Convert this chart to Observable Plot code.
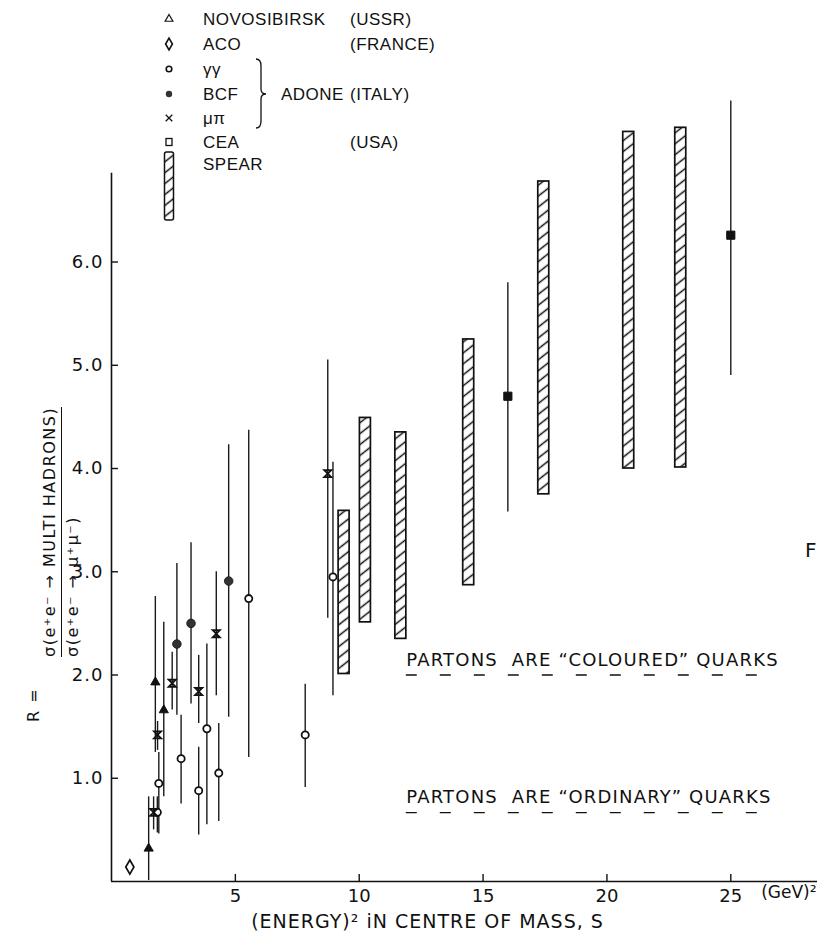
<!DOCTYPE html>
<html>
<head>
<meta charset="utf-8">
<script src="https://cdn.jsdelivr.net/npm/d3@7"></script>
<script src="https://cdn.jsdelivr.net/npm/@observablehq/plot@0.6"></script>
<style>
html,body{margin:0;padding:0;background:#fff;}
#wrap{position:relative;width:817px;height:942px;overflow:hidden;background:#fff;color:#111;font-family:"DejaVu Sans",sans-serif;}
#wrap > svg{position:absolute;left:0;top:0;}
.ylab{position:absolute;transform-origin:0 0;transform:rotate(-90deg);white-space:nowrap;font-size:16px;line-height:17px;letter-spacing:1.5px;color:#111;}
.frac{display:inline-block;}
.frac .bar{border-top:1.5px solid #111;margin:3px 0 2px 0;}
#fig{position:absolute;left:805px;top:538px;font-size:20px;color:#111;}
</style>
</head>
<body>
<div id="wrap"></div>
<script>
// ---------------- data ----------------
const xTicks = [5, 10, 15, 20, 25];
const yTicks = [1, 2, 3, 4, 5, 6];
const yAxisTop = 6.86;

// NOVOSIBIRSK (USSR) – triangles
const novosibirsk = [
  {s: 1.50, R: 0.32, lo: 0.01, hi: 0.82},
  {s: 1.77, R: 1.93, lo: 1.25, hi: 2.76},
  {s: 2.11, R: 1.66, lo: 0.82, hi: 2.51}
];
// ACO (FRANCE) – diamond
const aco = [
  {s: 0.74, R: 0.14, lo: 0.08, hi: 0.20}
];
// ADONE γγ – open circles
const adoneGG = [
  {s: 1.85, R: 0.67, lo: 0.47, hi: 0.82},
  {s: 1.91, R: 0.95, lo: 0.46, hi: 1.25},
  {s: 2.81, R: 1.19, lo: 0.75, hi: 1.61},
  {s: 3.52, R: 0.88, lo: 0.45, hi: 1.30},
  {s: 3.85, R: 1.48, lo: 0.55, hi: 2.30},
  {s: 4.33, R: 1.05, lo: 0.58, hi: 1.53},
  {s: 5.54, R: 2.74, lo: 1.20, hi: 4.37},
  {s: 7.82, R: 1.42, lo: 0.91, hi: 1.91},
  {s: 8.94, R: 2.95, lo: 1.80, hi: 4.06}
];
// ADONE BCF – filled circles
const adoneBCF = [
  {s: 2.64, R: 2.30, lo: 1.61, hi: 3.08},
  {s: 3.21, R: 2.50, lo: 1.72, hi: 3.28},
  {s: 4.73, R: 2.91, lo: 1.59, hi: 4.23}
];
// ADONE μπ – crosses
const adoneMuPi = [
  {s: 1.70, R: 0.67, lo: 0.50, hi: 0.82},
  {s: 1.86, R: 1.42, lo: 1.27, hi: 1.55},
  {s: 2.45, R: 1.92, lo: 1.66, hi: 2.22},
  {s: 3.52, R: 1.84, lo: 1.53, hi: 2.19},
  {s: 4.23, R: 2.40, lo: 1.80, hi: 3.00},
  {s: 8.73, R: 3.95, lo: 2.55, hi: 5.05}
];
// CEA (USA) – filled squares
const cea = [
  {s: 16.0, R: 4.70, lo: 3.58, hi: 5.80},
  {s: 25.0, R: 6.26, lo: 4.90, hi: 7.56}
];
// SPEAR – hatched bands
const spear = [
  {s: 9.39, lo: 2.01, hi: 3.59},
  {s: 10.25, lo: 2.51, hi: 4.49},
  {s: 11.68, lo: 2.35, hi: 4.35},
  {s: 14.42, lo: 2.87, hi: 5.25},
  {s: 17.45, lo: 3.75, hi: 6.78},
  {s: 20.88, lo: 4.00, hi: 7.26},
  {s: 22.98, lo: 4.01, hi: 7.30}
];
// predictions
const annotations = [
  {text: "PARTONS  ARE \u201CCOLOURED\u201D QUARKS", R: 2, s1: 11.9, s2: 26.9},
  {text: "PARTONS  ARE \u201CORDINARY\u201D QUARKS", R: 2 / 3, s1: 11.9, s2: 26.9}
];
// legend
const legendSymbols = ["triangle", "diamond", "circle", "dot", "times", "square", "spear"];
const legendNames = ["NOVOSIBIRSK", "ACO", "\u03B3\u03B3", "BCF", "\u03BC\u03C0", "CEA", "SPEAR"];
const legendCountries = ["(USSR)", "(FRANCE)", "", "(ITALY)", "", "(USA)", ""];
const legendGroup = "ADONE";
const xLabel = "(ENERGY)\u00B2 iN CENTRE OF MASS, S";
const xUnit = "(GeV)\u00B2";

// ---------------- chart ----------------
const hourglass = {
  draw(context, size) {
    const a = Math.sqrt(size) / 2;
    context.moveTo(-a, -a); context.lineTo(a, -a);
    context.lineTo(-a, a); context.lineTo(a, a); context.closePath();
  }
};
const ink = "#111";
const err = (data) => Plot.ruleX(data, {x: "s", y1: "lo", y2: "hi", stroke: "#1a1a1a", strokeWidth: 1.4});

const chart = Plot.plot({
  width: 817,
  height: 942,
  marginLeft: 111,
  marginRight: 0,
  marginTop: 86,
  marginBottom: 61,
  x: {domain: [0, 28.5]},
  y: {domain: [0, 7.7]},
  style: {fontFamily: "DejaVu Sans, sans-serif", fontSize: "17px", color: ink, background: "white", overflow: "visible"},
  marks: [
    Plot.ruleY([0], {stroke: ink, strokeWidth: 1.6}),
    Plot.ruleX([0], {y1: 0, y2: yAxisTop, stroke: ink, strokeWidth: 1.6}),
    Plot.axisX(xTicks, {tickSize: -7, tickPadding: 15, label: null, fontSize: 18, strokeWidth: 1.4}),
    Plot.axisY(yTicks, {tickSize: -7, tickPadding: 15, label: null, fontSize: 18, strokeWidth: 1.4, tickFormat: d3.format(".1f")}),
    Plot.text([xUnit], {frameAnchor: "bottom-right", textAnchor: "end", dx: -1, dy: 16, fontSize: 17}),
    Plot.text([xLabel], {frameAnchor: "bottom", dx: -37, dy: 46, fontSize: 19}),
    // predictions
    Plot.ruleY(annotations, {y: "R", x1: "s1", x2: "s2", stroke: ink, strokeWidth: 1.4, strokeDasharray: "11 23"}),
    Plot.text(annotations, {x: "s1", y: "R", text: "text", textAnchor: "start", dy: -15, fontSize: 18}),
    // SPEAR bands
    Plot.rect(spear, {x1: "s", x2: "s", y1: "lo", y2: "hi", insetLeft: -5.5, insetRight: -5.5, fill: "url(#hatchPlot)", stroke: ink, strokeWidth: 1.7}),
    // error bars
    err(aco), err(novosibirsk), err(adoneGG), err(adoneBCF), err(adoneMuPi), err(cea),
    // points
    Plot.dot(aco, {x: "s", y: "R", symbol: "diamond", r: 4.3, fill: "white", stroke: ink, strokeWidth: 1.7}),
    Plot.dot(novosibirsk, {x: "s", y: "R", symbol: "triangle", r: 3.4, fill: ink, stroke: ink, strokeWidth: 1}),
    Plot.dot(adoneGG, {x: "s", y: "R", r: 3.6, fill: "white", stroke: ink, strokeWidth: 1.8}),
    Plot.dot(adoneBCF, {x: "s", y: "R", r: 4.3, fill: "#333", stroke: ink, strokeWidth: 0.8}),
    Plot.dot(adoneMuPi, {x: "s", y: "R", symbol: hourglass, r: 4, fill: "none", stroke: ink, strokeWidth: 1.8}),
    Plot.dot(cea, {x: "s", y: "R", symbol: "square", r: 4.6, fill: ink, stroke: ink, strokeWidth: 1})
  ]
});

// hatch pattern for SPEAR bands
function addHatch(svgSel, id) {
  const p = svgSel.insert("defs", ":first-child").append("pattern")
    .attr("id", id).attr("patternUnits", "userSpaceOnUse")
    .attr("width", 12).attr("height", 8.6).attr("patternTransform", "rotate(-38)");
  p.append("rect").attr("width", 12).attr("height", 8.6).attr("fill", "white");
  p.append("line").attr("x1", 0).attr("x2", 12).attr("y1", 4.3).attr("y2", 4.3)
    .attr("stroke", ink).attr("stroke-width", 1.5);
}
addHatch(d3.select(chart), "hatchPlot");
const chartSel = d3.select(chart);
chartSel.selectAll("text").filter(function() { return this.textContent.startsWith("PARTONS"); })
  .attr("letter-spacing", 1.2);
chartSel.selectAll("text").filter(function() { return this.textContent === xLabel; })
  .attr("letter-spacing", 1);
chartSel.selectAll("[aria-label='y-axis tick label'] text").attr("letter-spacing", 1);

const wrap = document.getElementById("wrap");
wrap.appendChild(chart);

// ---------------- legend ----------------
const rowY = [19, 44, 69, 94, 118, 142, 164];
const symX = 169, nameX = 203, countryX = 350, groupX = 281;
const leg = d3.create("svg").attr("width", 500).attr("height", 232)
  .attr("font-family", "Liberation Sans, DejaVu Sans, sans-serif").attr("font-size", 17)
  .attr("letter-spacing", 0.5).attr("fill", ink);
addHatch(leg, "hatchLegend");
legendSymbols.forEach((sym, i) => {
  const y = rowY[i];
  const g = leg.append("g").attr("transform", `translate(${symX},${y})`);
  if (sym === "triangle") g.append("path").attr("d", d3.symbol(d3.symbolTriangle, 26)()).attr("fill", "none").attr("stroke", ink).attr("stroke-width", 1.2);
  else if (sym === "diamond") g.append("path").attr("d", d3.symbol(d3.symbolDiamond, 40)()).attr("fill", "none").attr("stroke", ink).attr("stroke-width", 1.6);
  else if (sym === "circle") g.append("circle").attr("r", 2.8).attr("fill", "none").attr("stroke", ink).attr("stroke-width", 1.6);
  else if (sym === "dot") g.append("circle").attr("r", 3.2).attr("fill", "#333");
  else if (sym === "times") g.append("path").attr("d", d3.symbol(d3.symbolTimes, 30)()).attr("fill", "none").attr("stroke", ink).attr("stroke-width", 1.3);
  else if (sym === "square") g.append("rect").attr("x", -3).attr("y", -3.5).attr("width", 6).attr("height", 7).attr("fill", "none").attr("stroke", ink).attr("stroke-width", 1.3);
  else if (sym === "spear") g.append("rect").attr("x", -4.5).attr("y", -12).attr("width", 9).attr("height", 68).attr("fill", "url(#hatchLegend)").attr("stroke", ink).attr("stroke-width", 1.5).attr("rx", 2);
  leg.append("text").attr("x", nameX).attr("y", y).attr("dy", "0.36em").text(legendNames[i]);
  if (legendCountries[i]) leg.append("text").attr("x", countryX).attr("y", y).attr("dy", "0.36em").text(legendCountries[i]);
});
leg.append("text").attr("x", groupX).attr("y", rowY[3]).attr("dy", "0.36em").text(legendGroup);
{
  const x0 = 256, t = rowY[2] - 10, m = rowY[3], b = rowY[4] + 10;
  leg.append("path").attr("fill", "none").attr("stroke", ink).attr("stroke-width", 1.3)
    .attr("d", `M${x0},${t} Q${x0 + 5},${t} ${x0 + 5},${t + 7} L${x0 + 5},${m - 5} Q${x0 + 5},${m} ${x0 + 10},${m} Q${x0 + 5},${m} ${x0 + 5},${m + 5} L${x0 + 5},${b - 7} Q${x0 + 5},${b} ${x0},${b}`);
}
wrap.appendChild(leg.node());

// ---------------- y-axis label (rotated) ----------------
const rLab = document.createElement("div");
rLab.className = "ylab";
rLab.style.left = "25px"; rLab.style.top = "722px";
rLab.textContent = "R =";
wrap.appendChild(rLab);

const fracLab = document.createElement("div");
fracLab.className = "ylab";
fracLab.style.left = "41px"; fracLab.style.top = "657px";
fracLab.innerHTML = '<div class="frac"><div>\u03C3(e\u207Ae\u207B \u2192 MULTI HADRONS)</div><div class="bar"></div><div>\u03C3(e\u207Ae\u207B \u2192 \u03BC\u207A\u03BC\u207B)</div></div>';
wrap.appendChild(fracLab);

const fig = document.createElement("div");
fig.id = "fig"; fig.textContent = "F";
wrap.appendChild(fig);
</script>
</body>
</html>
